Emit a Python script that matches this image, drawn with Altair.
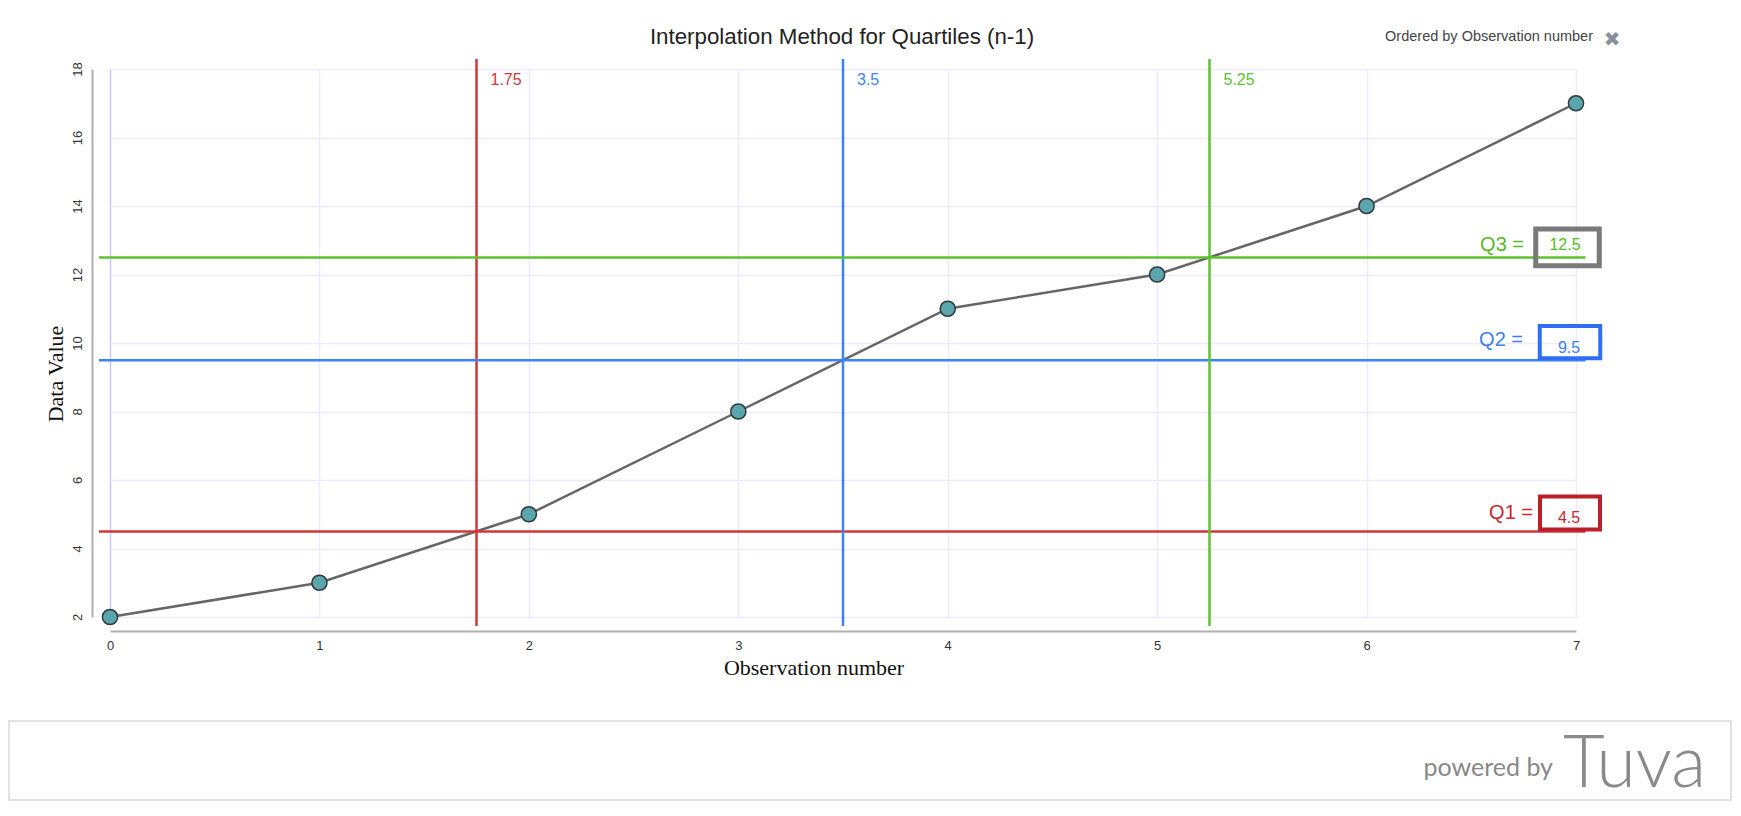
import altair as alt
import pandas as pd

# ---------------- data ----------------
obs_numbers = [0, 1, 2, 3, 4, 5, 6, 7]
data_values = [2, 3, 5, 8, 11, 12, 14, 17]

quartile_names = ["Q1", "Q2", "Q3"]
quartile_positions = [1.75, 3.5, 5.25]
quartile_values = [4.5, 9.5, 12.5]
position_labels = ["1.75", "3.5", "5.25"]
value_labels = ["4.5", "9.5", "12.5"]

x_ticks = [0, 1, 2, 3, 4, 5, 6, 7]
y_ticks = list(range(2, 19))

chart_title = "Interpolation Method for Quartiles (n-1)"
order_note = "Ordered by Observation number"
x_title = "Observation number"
y_title = "Data Value"

pts = pd.DataFrame({"x": obs_numbers, "y": data_values})
qdf = pd.DataFrame({
    "name": quartile_names,
    "pos": quartile_positions,
    "qv": quartile_values,
    "poslabel": position_labels,
    "vallabel": value_labels,
})
qdf["qlabel"] = qdf["name"] + " ="
one = pd.DataFrame({"a": [0]})

# ---------------- layout / style ----------------
W, H = 1466, 548
xs = alt.Scale(domain=[0, 7], nice=False, zero=False)
ys = alt.Scale(domain=[2, 18], nice=False, zero=False)

styles = {
    "Q1": dict(line="#d0363a", text="#c8282f", box="#bd1f29", bw=60, bh=0.55, bsw=4,
               bx=1460, bdy=-18.5, lx=1423, ldy=-18.5, vx=1459, vdy=-13.5),
    "Q2": dict(line="#3c83f6", text="#3c7ff2", box="#2f6ff3", bw=60.5, bh=0.535, bsw=4,
               bx=1460, bdy=-18, lx=1413, ldy=-20, vx=1459, vdy=-12),
    "Q3": dict(line="#5dc22f", text="#55bb25", box="#7a7a7a", bw=63.5, bh=0.577, bsw=5,
               bx=1457.5, bdy=-10, lx=1414, ldy=-12.5, vx=1455, vdy=-12),
}

x_axis = alt.Axis(
    values=x_ticks, format="d", offset=14, grid=True,
    gridColor={"condition": {"test": "datum.value === 0", "value": "#c8c8ff"}, "value": "#ececfc"},
    gridWidth=1.5,
    domainColor="#b0b0b0", domainWidth=2,
    ticks=True, tickSize=0, labelPadding=8, labelFlush=False,
    labelFont="Liberation Sans", labelFontSize=13, labelColor="#333333",
    title=None,
)
y_axis = alt.Axis(
    values=y_ticks, offset=18, grid=True,
    gridColor={"condition": {"test": "datum.value % 2 === 1", "value": "#e2fafa"}, "value": "#ececfc"},
    gridWidth=1.5,
    labelExpr="datum.value % 2 === 0 ? datum.label : ''",
    labelAngle=270, labelAlign="center", labelBaseline="middle", labelPadding=15,
    labelOverlap=False, labelFlush=False,
    domainColor="#b0b0b0", domainWidth=2,
    ticks=True, tickSize=0,
    labelFont="Liberation Sans", labelFontSize=13, labelColor="#333333",
    title=None,
)

layers = []

# footer box
layers.append(
    alt.Chart(one).mark_rect(fill="white", fillOpacity=0, stroke="#e2e2e2", strokeWidth=2)
    .encode(x=alt.value(-101), x2=alt.value(1621), y=alt.value(652), y2=alt.value(731))
)

# base line layer with axes
line = alt.Chart(pts).mark_line(color="#666666", strokeWidth=2.5).encode(
    x=alt.X("x:Q", scale=xs, axis=x_axis),
    y=alt.Y("y:Q", scale=ys, axis=y_axis),
)
layers.append(line)

for nm in quartile_names:
    s = styles[nm]
    base = alt.Chart(qdf).transform_filter(alt.datum.name == nm)
    # vertical rule
    layers.append(base.mark_rule(color=s["line"], strokeWidth=2.5).encode(
        x=alt.X("pos:Q", scale=xs, title=None), y=alt.value(-10), y2=alt.value(H + 9)))
    # horizontal rule
    layers.append(base.mark_rule(color=s["line"], strokeWidth=2.5).encode(
        y=alt.Y("qv:Q", scale=ys, title=None), x=alt.value(-11), x2=alt.value(W + 9.5)))
    # position label
    layers.append(base.mark_text(align="left", baseline="middle", dx=14, fontSize=16,
                                 font="Liberation Sans", color=s["line"]).encode(
        x=alt.X("pos:Q", scale=xs, title=None), y=alt.value(11), text="poslabel:N"))
    # Q label
    layers.append(base.mark_text(align="right", baseline="middle", dy=s["ldy"], fontSize=20,
                                 font="Liberation Sans", color=s["text"]).encode(
        y=alt.Y("qv:Q", scale=ys, title=None), x=alt.value(s["lx"]), text="qlabel:N"))
    # box
    h = s["bh"]
    path = f"M-1,-{h}L1,-{h}L1,{h}L-1,{h}Z"
    layers.append(base.mark_point(shape=path, size=s["bw"] ** 2, filled=False, opacity=1,
                                  stroke=s["box"], strokeWidth=s["bsw"]).encode(
        y=alt.Y("qv:Q", scale=ys, title=None), x=alt.value(s["bx"]),
        yOffset=alt.value(s["bdy"])))
    # value text
    layers.append(base.mark_text(align="center", baseline="middle", dy=s["vdy"], fontSize=16,
                                 font="Liberation Sans", color=s["text"]).encode(
        y=alt.Y("qv:Q", scale=ys, title=None), x=alt.value(s["vx"]), text="vallabel:N"))

# data points over everything
layers.append(alt.Chart(pts).mark_circle(size=230, fill="#5ba6ad", stroke="#2e3a3b",
                                         strokeWidth=1.5, opacity=1).encode(
    x=alt.X("x:Q", scale=xs, title=None), y=alt.Y("y:Q", scale=ys, title=None)))

# texts
def txt(text, x, y, **kw):
    return alt.Chart(pd.DataFrame({"t": [text]})).mark_text(**kw).encode(
        x=alt.value(x), y=alt.value(y), text="t:N")

layers.append(txt(chart_title, 732, -32, align="center", baseline="middle",
                  font="Liberation Sans", fontSize=22.3, color="#222222"))
layers.append(txt(order_note, 1483, -32, align="right", baseline="middle",
                  font="Liberation Sans", fontSize=14.5, color="#444444"))
layers.append(txt("✖", 1502, -29, align="center", baseline="middle",
                  font="DejaVu Sans", fontSize=20, color="#8a9099"))
layers.append(txt(x_title, 704, 599, align="center", baseline="middle",
                  font="Liberation Serif", fontSize=22, color="#111111"))
layers.append(txt(y_title, -54, 305, align="center", baseline="middle", angle=270,
                  font="Liberation Serif", fontSize=22, color="#111111"))
layers.append(txt("powered by", 1443, 699, align="right", baseline="middle",
                  font="Lato", fontSize=25, color="#888888"))
layers.append(txt("Tuva", 1453, 733, align="left", baseline="bottom",
                  font="Lato", fontSize=72, fontWeight=300, color="#8a8a8a"))

chart = alt.layer(*layers).properties(
    width=W, height=H,
    autosize=alt.AutoSizeParams(type="none"),
    padding={"left": 102, "top": 61, "right": 157, "bottom": 186},
    background="white",
).configure_view(stroke=None)

chart.save("out.html", embed_options={"renderer": "svg", "actions": False})
